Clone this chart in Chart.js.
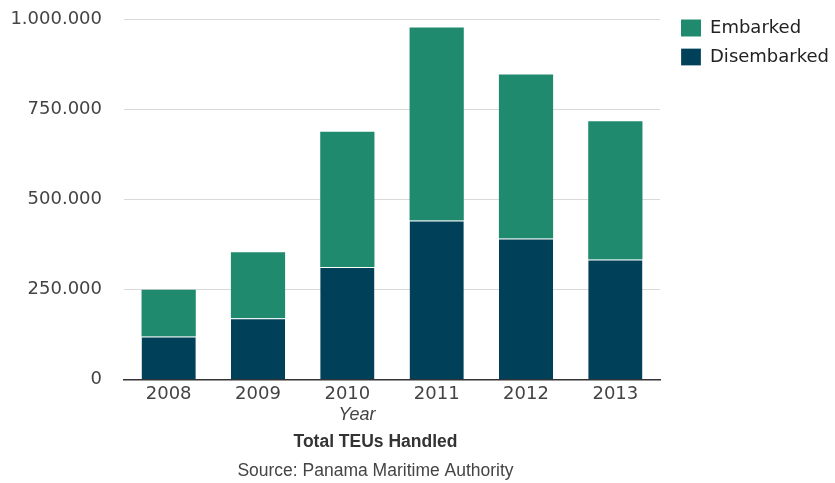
<!DOCTYPE html>
<html>
<head>
<meta charset="utf-8">
<script src="https://cdn.jsdelivr.net/npm/chart.js@4/dist/chart.umd.min.js"></script>
<style>
html,body{margin:0;padding:0;background:#fff;}
#wrap{width:835px;height:483px;position:relative;}
</style>
</head>
<body>
<div id="wrap"><canvas id="c" width="835" height="483"></canvas></div>
<script>
const categories = ['2008', '2009', '2010', '2011', '2012', '2013'];
const disembarked = [120000, 171000, 313000, 442000, 392000, 334000];
const embarked = [130000, 183000, 375000, 535000, 455000, 383000];
const yTicks = [0, 250000, 500000, 750000, 1000000];

function fmt(v) {
  return String(Math.round(v)).replace(/\B(?=(\d{3})+(?!\d))/g, '.');
}

const ARIAL = '"Liberation Sans", Arial, sans-serif';
const WIDE = '"DejaVu Sans", Verdana, sans-serif';
Chart.defaults.font.family = ARIAL;
Chart.defaults.font.size = 18;
Chart.defaults.color = '#444';

// Shift the bottom titles / axis title horizontally (they sit left of centre in the reference)
const titleOffsetPlugin = {
  id: 'titleOffset',
  afterLayout(chart, args, opts) {
    chart.boxes.forEach(b => {
      if (!b.axis && b.position === 'bottom' && b.options && b.options.text) {
        b.left += opts.titleShift;
        b.right += opts.titleShift;
      }
    });
    const xs = chart.scales.x;
    if (xs && !xs._shiftWrapped) {
      const orig = xs.drawTitle.bind(xs);
      xs.drawTitle = function () {
        this.left += opts.axisTitleShift; this.right += opts.axisTitleShift;
        orig();
        this.left -= opts.axisTitleShift; this.right -= opts.axisTitleShift;
      };
      xs._shiftWrapped = true;
    }
  }
};

new Chart(document.getElementById('c'), {
  type: 'bar',
  plugins: [titleOffsetPlugin],
  data: {
    labels: categories,
    datasets: [
      { label: 'Disembarked', data: disembarked, backgroundColor: '#004058', borderColor: '#ffffff', borderWidth: {top: 1, left: 0, right: 0, bottom: 0}, borderSkipped: false, categoryPercentage: 1, barPercentage: 0.607 },
      { label: 'Embarked', data: embarked, backgroundColor: '#208a6f', borderColor: '#ffffff', borderWidth: 0, categoryPercentage: 1, barPercentage: 0.607 }
    ]
  },
  options: {
    responsive: false,
    animation: false,
    layout: { padding: { top: 8, right: -4, bottom: 1, left: 8 } },
    scales: {
      x: {
        stacked: true,
        grid: { display: false, drawTicks: false },
        border: { display: true, color: '#333', width: 1.5 },
        ticks: { color: '#444', font: { family: WIDE, size: 18 }, padding: 4 },
        title: { display: true, text: 'Year', color: '#444', font: { family: ARIAL, size: 18, style: 'italic' }, padding: { top: -5, bottom: 1 } }
      },
      y: {
        stacked: true,
        min: 0,
        max: 1000000,
        afterBuildTicks: (ax) => { ax.ticks = yTicks.map(v => ({ value: v })); },
        afterFit: (ax) => { ax.width = 116; },
        grid: { color: '#d9d9d9', lineWidth: 1, drawTicks: true, tickLength: 13.5, tickColor: 'rgba(0,0,0,0)' },
        border: { display: false },
        ticks: { color: '#444', font: { family: WIDE, size: 18 }, padding: 8.5, callback: (v) => fmt(v) }
      },
      gap: {
        type: 'linear',
        position: 'right',
        display: true,
        grid: { display: false, drawTicks: false },
        border: { display: false },
        ticks: { display: false },
        afterFit: (ax) => { ax.width = 10; }
      }
    },
    plugins: {
      titleOffset: { titleShift: -48, axisTitleShift: -35 },
      legend: {
        position: 'right',
        align: 'start',
        reverse: true,
        maxWidth: 220,
        labels: { boxWidth: 20, boxHeight: 17, padding: 11, color: '#222', font: { family: WIDE, size: 18 } }
      },
      title: {
        display: true,
        position: 'bottom',
        weight: 1000,
        text: 'Total TEUs Handled',
        color: '#333',
        font: { family: ARIAL, size: 17.5, weight: 'bold' },
        padding: { top: 5, bottom: 4 }
      },
      subtitle: {
        display: true,
        position: 'bottom',
        weight: 1500,
        text: 'Source: Panama Maritime Authority',
        color: '#444',
        font: { family: ARIAL, size: 17.5 },
        padding: { top: 4, bottom: 0 }
      },
      tooltip: { enabled: false }
    }
  }
});
</script>
</body>
</html>
